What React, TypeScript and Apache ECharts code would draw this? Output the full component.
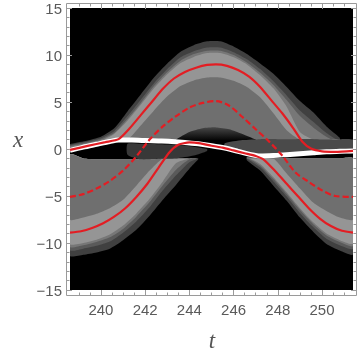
import React, { useEffect, useRef } from "react";
import * as echarts from "echarts";

// ---- axes ----
const tRange = [238.6, 251.4];
const xRange = [-15, 15];
const tMajorTicks = [240, 242, 244, 246, 248, 250];
const tMinorTicks = [239, 239.5, 240.5, 241, 241.5, 242.5, 243, 243.5, 244.5, 245, 245.5, 246.5, 247, 247.5, 248.5, 249, 249.5, 250.5, 251];
const xMajorTicks = [-15, -10, -5, 0, 5, 10, 15];
const xMinorTicks = [-14, -13, -12, -11, -9, -8, -7, -6, -4, -3, -2, -1, 1, 2, 3, 4, 6, 7, 8, 9, 11, 12, 13, 14];

// ---- upper density lobe (around t = 245) ----
const tU = [238.6, 239.3, 240.0, 240.6, 241.2, 241.8, 242.4, 243.0, 243.6, 244.2, 244.8, 245.4, 246.0, 246.6, 247.2, 247.8, 248.4, 249.0, 249.6, 250.2, 250.8];
const uOuter = [0.5, 0.85, 1.3, 2.2, 4.0, 5.8, 7.6, 9.1, 10.35, 11.05, 11.45, 11.45, 10.9, 10.1, 9.1, 8.0, 6.6, 5.1, 3.9, 2.4, 1.2];
const uFringe2 = [0.4, 0.75, 1.15, 1.9, 3.5, 5.25, 7.0, 8.5, 9.75, 10.4, 10.8, 10.8, 10.3, 9.55, 8.5, 7.2, 5.7, 4.1, 2.9, 1.7, 0.8];
const uFringe3 = [0.3, 0.62, 1.0, 1.7, 3.2, 4.9, 6.7, 8.2, 9.4, 10.1, 10.45, 10.45, 10.0, 9.2, 8.1, 6.8, 5.2, 3.5, 2.3, 1.3, 0.6];
const uLight = [0.15, 0.45, 0.85, 1.6, 3.0, 4.7, 6.45, 7.95, 9.15, 9.8, 10.2, 10.2, 9.75, 9.0, 7.85, 6.45, 4.5, 1.8, 1.0, 0.9, 0.5];
const uMedium = [0.15, 0.45, 0.7, 0.95, 1.0, 2.5, 4.1, 5.6, 6.7, 7.3, 7.6, 7.6, 7.25, 6.6, 5.5, 3.8, 2.0, 1.0, 1.0, 1.0, 1.0];
const uFloor = [0.15, 0.45, 0.7, 0.95, 1.0, 1.0, 1.0, 1.0, 1.0, 1.0, 1.0, 1.0, 1.0, 1.0, 1.0, 1.0, 1.0, 1.0, 1.0, 1.0, 1.0];

const tDome = [243.4, 244.0, 244.6, 245.2, 245.8, 246.4, 247.0];
const domeTop = [1.0, 1.8, 2.2, 2.3, 2.1, 1.6, 1.0];
const domeBase = [0.95, 0.95, 0.95, 0.95, 0.95, 0.95, 0.95];

// ---- lower-left lobe ----
const tL = [238.6, 239.2, 239.8, 240.4, 241.0, 241.6, 242.2, 242.8, 243.4, 244.0, 244.4];
const lOuter = [-11.35, -11.25, -11.0, -10.6, -9.7, -8.6, -7.1, -5.4, -3.8, -2.1, -1.1];
const lFringe2 = [-10.75, -10.6, -10.3, -9.85, -8.9, -7.7, -6.2, -4.4, -2.8, -1.4, -1.0];
const lFringe3 = [-10.4, -10.25, -9.9, -9.4, -8.5, -7.2, -5.65, -3.85, -2.2, -1.1, -1.0];
const lLight = [-10.1, -10.0, -9.65, -9.1, -8.15, -6.85, -5.3, -3.45, -1.5, -1.0, -1.0];
const lMedium = [-7.5, -7.3, -6.9, -6.3, -5.4, -3.9, -2.3, -1.0, -1.0, -1.0, -1.0];
const lCeil = [-0.6, -1.0, -1.1, -1.1, -1.1, -1.1, -1.1, -1.0, -1.0, -1.0, -1.0];

// ---- lower-right lobe ----
const tR = [246.6, 247.2, 247.8, 248.4, 249.0, 249.6, 250.2, 250.8, 251.4];
const rOuter = [-1.2, -2.3, -3.9, -5.5, -7.3, -8.8, -10.1, -10.8, -11.2];
const rFringe2 = [-1.0, -1.95, -3.45, -5.05, -6.8, -8.3, -9.55, -10.25, -10.6];
const rFringe3 = [-0.9, -1.75, -3.2, -4.8, -6.5, -8.0, -9.2, -9.9, -10.3];
const rLight = [-0.85, -1.6, -3.0, -4.6, -6.3, -7.8, -9.0, -9.7, -10.05];
const rMedium = [-1.0, -1.0, -1.0, -2.6, -4.2, -5.7, -6.6, -7.3, -7.5];
const rCeil = [-0.9, -1.0, -1.0, -1.0, -1.0, -1.0, -1.0, -1.0, -1.0];

// ---- central shelves near x = 0 ----
const tShelfR = [245.6, 246.4, 247.2, 248.0, 248.8, 249.6, 250.4, 251.4];
const shelfRTop = [0.6, 0.95, 1.05, 1.05, 1.05, 1.05, 1.0, 1.0];
const shelfRBot = [0.1, -0.3, -0.8, -0.8, -0.7, -0.55, -0.45, -0.4];
const tShelfL = [241.2, 241.8, 242.6, 243.4, 244.2, 244.8];
const shelfLTop = [0.55, 0.55, 0.5, 0.45, 0.25, 0.0];
const shelfLBot = [-0.6, -1.1, -1.05, -1.0, -0.7, -0.2];

// ---- curves ----
const tWhite = [238.6, 239.2, 239.8, 240.4, 240.8, 241.4, 242.0, 242.6, 243.2, 243.8, 244.4, 245.0, 245.6, 246.2, 246.8, 247.2, 247.8, 248.4, 249.0, 249.6, 250.2, 250.8, 251.4];
const xWhite = [-0.15, 0.2, 0.5, 0.8, 0.95, 0.95, 0.9, 0.85, 0.8, 0.7, 0.55, 0.35, 0.1, -0.25, -0.6, -0.75, -0.7, -0.6, -0.5, -0.4, -0.3, -0.25, -0.2];

const tRedUpper = [238.6, 239.4, 240.2, 240.8, 241.3, 241.8, 242.3, 242.8, 243.3, 243.8, 244.3, 244.8, 245.2, 245.7, 246.2, 246.7, 247.2, 247.7, 248.2, 248.7, 249.1, 249.5, 250.0, 250.6, 251.4];
const xRedUpper = [-0.1, 0.33, 0.73, 1.05, 2.2, 3.6, 5.0, 6.4, 7.5, 8.2, 8.65, 8.95, 9.0, 8.85, 8.4, 7.7, 6.6, 5.2, 3.8, 2.2, 0.8, 0.05, -0.25, -0.3, -0.2];

const tRedLower = [238.6, 239.1, 239.6, 240.1, 240.6, 241.1, 241.6, 242.1, 242.6, 243.1, 243.5, 244.0, 244.5, 245.0, 245.5, 246.0, 246.5, 247.0, 247.4, 247.9, 248.4, 248.9, 249.4, 249.9, 250.4, 250.9, 251.4];
const xRedLower = [-8.9, -8.75, -8.4, -7.9, -7.2, -6.3, -5.1, -3.7, -2.0, -0.35, 0.45, 0.7, 0.6, 0.35, 0.15, -0.15, -0.45, -0.75, -1.2, -2.4, -3.7, -5.0, -6.3, -7.4, -8.2, -8.7, -8.9];

const tDashed = [238.6, 239.2, 239.8, 240.4, 241.0, 241.6, 242.2, 242.8, 243.4, 244.0, 244.6, 245.2, 245.8, 246.4, 247.0, 247.6, 248.2, 248.8, 249.4, 250.0, 250.6, 251.4];
const xDashed = [-5.1, -4.8, -4.2, -3.4, -2.3, -0.8, 1.0, 2.4, 3.5, 4.4, 4.9, 5.1, 4.6, 3.4, 2.1, 0.8, -0.7, -2.5, -3.5, -4.4, -5.0, -5.1];

const C_OUTER = "#404040";
const C_FR2 = "#5a5a5a";
const C_FR3 = "#777777";
const C_LIGHT = "#959595";
const C_MED = "#6f6f6f";
const RED = "#e31d23";

const zip = (ts: number[], xs: number[]) => ts.map((t, i) => [t, xs[i]]);

let zCounter = 2;
function band(ts: number[], top: number[], bottom: number[], fill: any) {
  const z = zCounter++;
  return {
    type: "custom",
    z,
    silent: true,
    clip: true,
    xAxisIndex: 0,
    yAxisIndex: 0,
    data: [[ts[0], top[0]]],
    renderItem: (_p: any, api: any) => {
      const pts: number[][] = [];
      for (let i = 0; i < ts.length; i++) pts.push(api.coord([ts[i], top[i]]));
      for (let i = ts.length - 1; i >= 0; i--) pts.push(api.coord([ts[i], bottom[i]]));
      return { type: "polygon", shape: { points: pts, smooth: 0.2 }, style: { fill } };
    },
  };
}

function xAxisDef(position: string, offset: number, ticks: number[], len: number, labels: boolean) {
  return {
    type: "value",
    min: tRange[0],
    max: tRange[1],
    position,
    offset,
    axisLine: { show: false, onZero: false },
    splitLine: { show: false },
    axisTick: { show: true, inside: true, length: len, customValues: ticks, lineStyle: { color: "#9a9a9a", width: 1 } },
    axisLabel: labels
      ? { show: true, customValues: ticks, color: "#5a5a5a", fontSize: 15, margin: 6, fontFamily: "Liberation Sans" }
      : { show: false },
  };
}
function yAxisDef(position: string, offset: number, ticks: number[], len: number, labels: boolean) {
  return {
    type: "value",
    min: xRange[0],
    max: xRange[1],
    position,
    offset,
    axisLine: { show: false, onZero: false },
    splitLine: { show: false },
    axisTick: { show: true, inside: true, length: len, customValues: ticks, lineStyle: { color: "#9a9a9a", width: 1 } },
    axisLabel: labels
      ? {
          show: true,
          customValues: ticks,
          color: "#5a5a5a",
          fontSize: 15,
          margin: 4,
          fontFamily: "Liberation Sans",
          formatter: (v: number) => (v < 0 ? "\u2212" + Math.abs(v) : String(v)),
        }
      : { show: false },
  };
}

export default function App() {
  const ref = useRef<HTMLDivElement>(null);
  useEffect(() => {
    if (!ref.current) return;
    const chart = echarts.init(ref.current, null, { renderer: "svg" });
    zCounter = 2;
    const domeFill = new echarts.graphic.LinearGradient(0, 0, 0, 1, [
      { offset: 0, color: "#464646" },
      { offset: 1, color: "#050505" },
    ]);
    const series: any[] = [
      band(tU, uOuter, uFloor, C_OUTER),
      band(tU, uFringe2, uFloor, C_FR2),
      band(tU, uFringe3, uFloor, C_FR3),
      band(tU, uLight, uFloor, C_LIGHT),
      band(tU, uMedium, uFloor, C_MED),
      band(tDome, domeTop, domeBase, domeFill),
      band(tL, lCeil, lOuter, C_OUTER),
      band(tL, lCeil, lFringe2, C_FR2),
      band(tL, lCeil, lFringe3, C_FR3),
      band(tL, lCeil, lLight, C_LIGHT),
      band(tL, lCeil, lMedium, C_MED),
      band(tR, rCeil, rOuter, C_OUTER),
      band(tR, rCeil, rFringe2, C_FR2),
      band(tR, rCeil, rFringe3, C_FR3),
      band(tR, rCeil, rLight, C_LIGHT),
      band(tR, rCeil, rMedium, C_MED),
      band(tShelfR, shelfRTop, shelfRBot, "#4a4a4a"),
      band(tShelfL, shelfLTop, shelfLBot, "#383838"),
      {
        type: "line", z: 40, data: zip(tWhite, xWhite), showSymbol: false, smooth: 0.2, silent: true,
        lineStyle: { color: "#ffffff", width: 5 },
      },
      {
        type: "line", z: 41, data: zip(tDashed, xDashed), showSymbol: false, smooth: 0.3, silent: true,
        lineStyle: { color: RED, width: 2.2, type: [6, 3] },
      },
      {
        type: "line", z: 42, data: zip(tRedUpper, xRedUpper), showSymbol: false, smooth: 0.2, silent: true,
        lineStyle: { color: RED, width: 2.2 },
      },
      {
        type: "line", z: 43, data: zip(tRedLower, xRedLower), showSymbol: false, smooth: 0.2, silent: true,
        lineStyle: { color: RED, width: 2.2 },
      },
    ];
    chart.setOption({
      animation: false,
      grid: {
        left: 70, top: 8, width: 283, height: 282,
        show: true, backgroundColor: "#000000", borderWidth: 0,
        containLabel: false, outerBoundsMode: "none",
      },
      xAxis: [
        xAxisDef("bottom", 6, tMajorTicks, 6, true),
        xAxisDef("bottom", 6, tMinorTicks, 3.5, false),
        xAxisDef("top", 5, tMajorTicks, 6, false),
        xAxisDef("top", 5, tMinorTicks, 3.5, false),
      ],
      yAxis: [
        yAxisDef("left", 4, xMajorTicks, 6, true),
        yAxisDef("left", 4, xMinorTicks, 3.5, false),
        yAxisDef("right", 4, xMajorTicks, 6, false),
        yAxisDef("right", 4, xMinorTicks, 3.5, false),
      ],
      graphic: [
        {
          type: "rect", silent: true, z: 100,
          shape: { x: 66.5, y: 3.5, width: 290, height: 292 },
          style: { fill: "none", stroke: "#9a9a9a", lineWidth: 1 },
        },
        {
          type: "text", silent: true, x: 212, y: 340,
          style: { text: "t", font: 'italic 23px "Liberation Serif"', fill: "#555555", align: "center", verticalAlign: "middle" },
        },
        {
          type: "text", silent: true, x: 18, y: 139,
          style: { text: "x", font: 'italic 23px "Liberation Serif"', fill: "#555555", align: "center", verticalAlign: "middle" },
        },
      ],
      series,
    });
    return () => chart.dispose();
  }, []);
  return <div ref={ref} style={{ position: "fixed", left: 0, top: 0, width: 360, height: 352 }} />;
}
